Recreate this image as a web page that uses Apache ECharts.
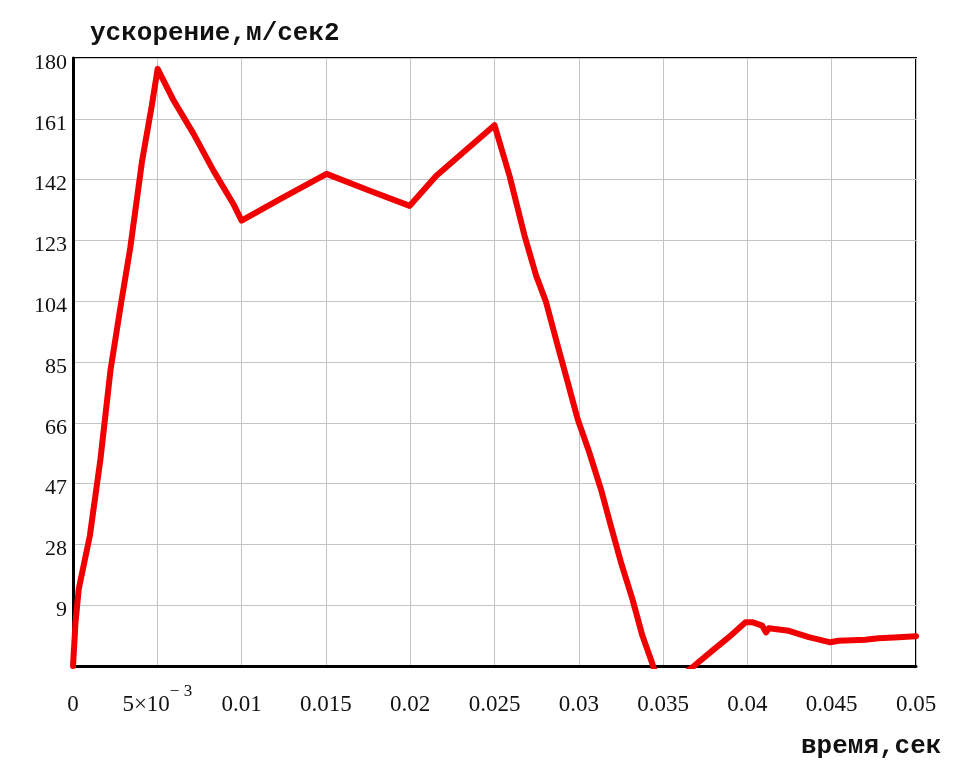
<!DOCTYPE html>
<html>
<head>
<meta charset="utf-8">
<script src="https://cdn.jsdelivr.net/npm/echarts@6/dist/echarts.min.js"></script>
<style>
  html, body { margin: 0; padding: 0; background: #fff; }
  #chart { width: 976px; height: 776px; }
</style>
</head>
<body>
<div id="chart"></div>
<script>
// время, сек
var times = [0, 0.00015, 0.00034, 0.001, 0.00163, 0.00222, 0.00281, 0.0034, 0.0041, 0.00469,
  0.00502, 0.00597, 0.00715, 0.00833, 0.00951, 0.01, 0.01228, 0.01504, 0.0176, 0.01997,
  0.02155, 0.025, 0.02589, 0.02678, 0.02747, 0.02806, 0.02875, 0.02934, 0.02993, 0.03062,
  0.03131, 0.0319, 0.0325, 0.03318, 0.03377, 0.03437, 0.0349, 0.03683, 0.03792, 0.0389,
  0.03989, 0.04028, 0.04088, 0.04111, 0.04127, 0.04246, 0.04364, 0.04492, 0.04541, 0.04699,
  0.04778, 0.04896, 0.05];
// ускорение, м/сек2
var accel = [-10, 3.7, 14, 30.7, 54.7, 82.3, 102, 120.8, 147.9, 165.6,
  176.6, 166.7, 156.3, 144.8, 134.4, 129.2, 135.9, 143.8, 138.5, 133.8,
  143.2, 159, 143.2, 124.5, 112, 103.7, 90.1, 78.7, 67.2, 56.8,
  45.3, 33.8, 22.4, 10.9, -0.5, -9.4, -18, -10, -5.2, -1.0,
  3.7, 3.7, 2.6, 0.5, 1.8, 1.0, -1.0, -2.6, -2.1, -1.8,
  -1.3, -1.0, -0.7];
var xTickLabels = ['{a|0}', '{a|5×10}{s|− 3}', '{a|0.01}', '{a|0.015}', '{a|0.02}', '{a|0.025}',
  '{a|0.03}', '{a|0.035}', '{a|0.04}', '{a|0.045}', '{a|0.05}'];

var myChart = echarts.init(document.getElementById('chart'));
var points = times.map(function (t, i) { return [t, accel[i]]; });

var option = {
  backgroundColor: '#fff',
  animation: false,
  grid: {
    left: 73, right: 60, top: 58, bottom: 110,
    show: true, borderColor: '#000', borderWidth: 2
  },
  graphic: [
    {
      type: 'text', left: 90, top: 20,
      style: { text: 'ускорение,м/сек2', font: 'bold 26px "Liberation Mono", monospace', fill: '#111' }
    },
    {
      type: 'text', left: 801, top: 733,
      style: { text: 'время,сек', font: 'bold 26px "Liberation Mono", monospace', fill: '#111' }
    }
  ],
  xAxis: {
    type: 'value',
    min: 0, max: 0.05, interval: 0.005,
    axisLine: { show: true, onZero: false, lineStyle: { color: '#000', width: 3 } },
    axisTick: { show: false },
    splitLine: { show: true, lineStyle: { color: '#c4c4c4', width: 1 } },
    axisLabel: {
      margin: 17,
      color: '#111',
      fontFamily: '"Liberation Serif", serif',
      fontSize: 23,
      formatter: function (v) {
        return xTickLabels[Math.round(v / 0.005)];
      },
      rich: {
        a: { fontFamily: '"Liberation Serif", serif', fontSize: 23, lineHeight: 23, color: '#111',
          verticalAlign: 'top', padding: [10, 0, 0, 0] },
        s: { fontFamily: '"Liberation Serif", serif', fontSize: 17, lineHeight: 17, color: '#111',
          verticalAlign: 'top' }
      }
    }
  },
  yAxis: {
    type: 'value',
    min: -10, max: 180, interval: 19,
    axisLine: { show: true, lineStyle: { color: '#000', width: 3 } },
    axisTick: { show: false },
    splitLine: { show: true, lineStyle: { color: '#c4c4c4', width: 1 } },
    axisLabel: {
      showMinLabel: false,
      margin: 6,
      color: '#111',
      fontFamily: '"Liberation Serif", serif',
      fontSize: 22,
      formatter: function (v) {
        return '{b|' + v + '}';
      },
      rich: {
        b: { fontFamily: '"Liberation Serif", serif', fontSize: 22, lineHeight: 22, color: '#111',
          padding: [10, 0, 0, 0] }
      }
    }
  },
  series: [
    {
      type: 'line',
      data: points,
      showSymbol: false,
      clip: true,
      lineStyle: { color: '#f00000', width: 6, join: 'round', cap: 'round' }
    }
  ]
};
myChart.setOption(option);
</script>
</body>
</html>
